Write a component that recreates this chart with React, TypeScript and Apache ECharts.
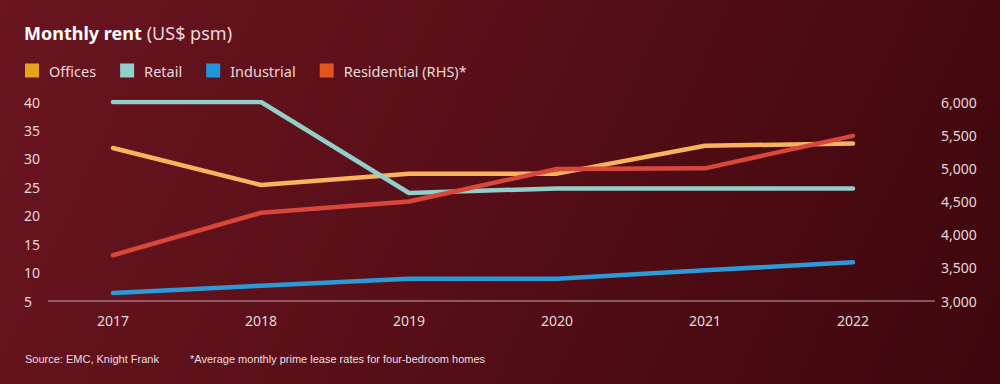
import React, { useEffect, useRef } from "react";
import * as echarts from "echarts";

const years = ["2017", "2018", "2019", "2020", "2021", "2022"];
const offices = [31.9, 25.4, 27.4, 27.4, 32.3, 32.7];
const retail = [40, 40, 24, 24.8, 24.8, 24.8];
const industrial = [6.4, 7.7, 8.9, 8.9, 10.4, 11.8];
const residential = [3690, 4330, 4500, 4990, 5000, 5490];

const seriesNames = ["Offices", "Retail", "Industrial", "Residential (RHS)*"];
const lineColors = ["#F7B45C", "#92CFC9", "#2B9AD6", "#D9473B"];
const legendColors = ["#E9A21C", "#8FD0CB", "#2197D8", "#E2561E"];

const FONT = "'Noto Sans', sans-serif";

export default function App() {
  const ref = useRef<HTMLDivElement>(null);
  useEffect(() => {
    if (!ref.current) return;
    const chart = echarts.init(ref.current, undefined, { renderer: "svg" });
    const dataSets = [offices, retail, industrial, residential];
    chart.setOption({
      animation: false,
      backgroundColor: "transparent",
      title: {
        left: 19,
        top: 19,
        text: "{b|Monthly rent} {n|(US$ psm)}",
        textStyle: {
          rich: {
            b: { fontFamily: FONT, fontWeight: "bold", fontSize: 18, color: "#FFFFFF" },
            n: { fontFamily: FONT, fontWeight: "normal", fontSize: 18, color: "#EADADC" },
          },
        },
      },
      legend: {
        left: 20,
        top: 58,
        icon: "rect",
        itemWidth: 14,
        itemHeight: 14,
        itemGap: 24,
        textStyle: { color: "#EADADC", fontFamily: FONT, fontSize: 14.5, padding: [0, 0, 0, 5] },
        data: seriesNames.map((n, i) => ({ name: n, itemStyle: { color: legendColors[i] } })),
      },
      grid: { left: 113, right: 147, top: 102, bottom: 83 },
      xAxis: {
        type: "category",
        data: years,
        boundaryGap: false,
        axisLine: { show: false },
        axisTick: { show: false },
        splitLine: { show: false },
        axisLabel: { color: "#EAD6D8", fontFamily: FONT, fontSize: 14, margin: 12 },
      },
      yAxis: [
        {
          type: "value",
          min: 5,
          max: 40,
          interval: 5,
          splitLine: { show: false },
          axisLine: { show: false },
          axisTick: { show: false },
          axisLabel: { color: "#EAD6D8", fontFamily: FONT, fontSize: 14, align: "left", margin: 89 },
        },
        {
          type: "value",
          min: 3000,
          max: 6000,
          interval: 500,
          position: "right",
          splitLine: { show: false },
          axisLine: { show: false },
          axisTick: { show: false },
          axisLabel: {
            color: "#EAD6D8",
            fontFamily: FONT,
            fontSize: 14,
            align: "left",
            margin: 88,
            formatter: (v: number) => v.toLocaleString("en-US"),
          },
        },
      ],
      graphic: [
        {
          type: "line",
          shape: { x1: 48, y1: 301, x2: 935, y2: 301 },
          style: { stroke: "#C9A3A8", lineWidth: 1 },
          z: 1,
        },
        {
          type: "text",
          left: 25,
          top: 353,
          style: { text: "Source: EMC, Knight Frank", fill: "#EEDFE0", font: "11px 'Liberation Sans', Arial, sans-serif" },
        },
        {
          type: "text",
          left: 190,
          top: 353,
          style: {
            text: "*Average monthly prime lease rates for four-bedroom homes",
            fill: "#EEDFE0",
            font: "11px 'Liberation Sans', Arial, sans-serif",
          },
        },
      ],
      series: seriesNames.map((n, i) => ({
        name: n,
        type: "line",
        yAxisIndex: i === 3 ? 1 : 0,
        data: dataSets[i],
        symbol: "none",
        itemStyle: { color: legendColors[i] },
        lineStyle: { color: lineColors[i], width: 4.5, cap: "round", join: "round" },
        z: 3,
      })),
    });
    return () => chart.dispose();
  }, []);
  return (
    <div
      ref={ref}
      style={{
        position: "absolute",
        left: 0,
        top: 0,
        width: 1000,
        height: 384,
        background: "linear-gradient(115deg, #6A1521 0%, #5A0F19 40%, #4A0A12 75%, #3E070D 100%)",
      }}
    />
  );
}
